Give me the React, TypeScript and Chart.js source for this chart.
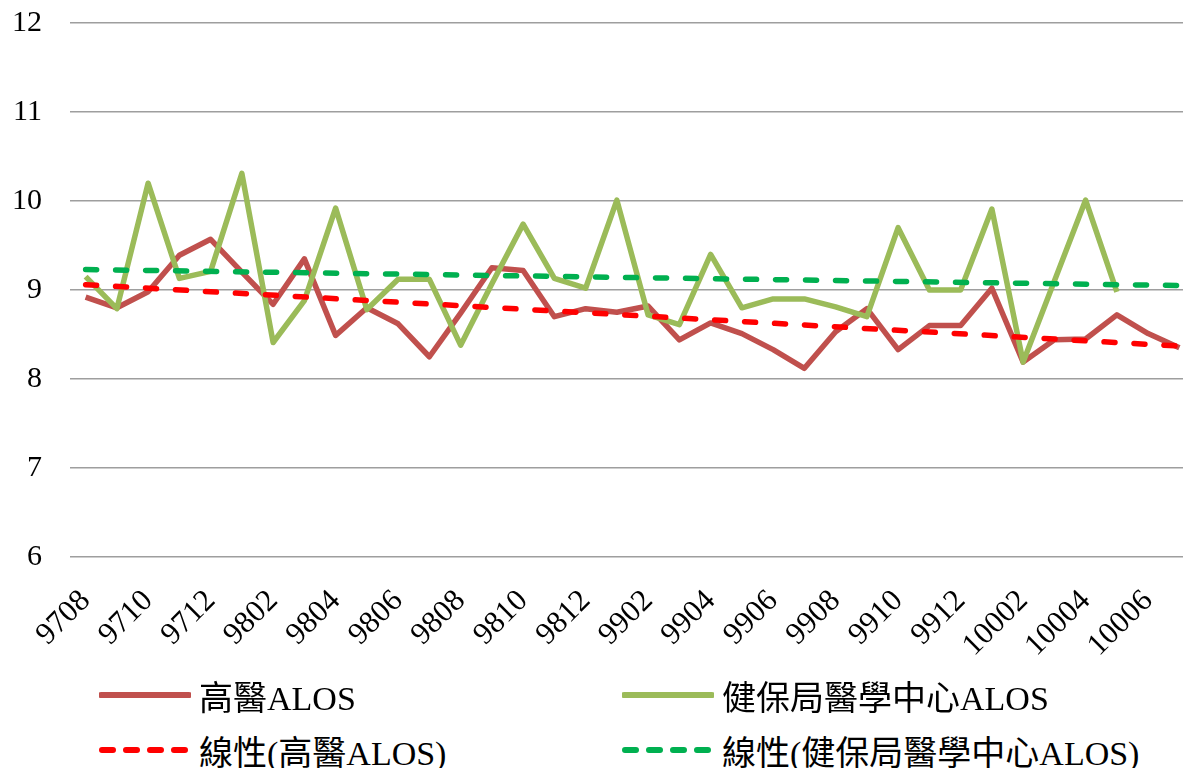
import React, { useEffect, useRef } from 'react';
import { Chart, registerables } from 'chart.js';

Chart.register(...registerables);

const months: string[] = [
  '9708', '9709', '9710', '9711', '9712',
  '9801', '9802', '9803', '9804', '9805', '9806', '9807', '9808', '9809', '9810', '9811', '9812',
  '9901', '9902', '9903', '9904', '9905', '9906', '9907', '9908', '9909', '9910', '9911', '9912',
  '10001', '10002', '10003', '10004', '10005', '10006', '10007',
];

const kmuAlos: number[] = [
  8.92, 8.80, 8.98, 9.39, 9.57,
  9.20, 8.84, 9.35, 8.49, 8.80, 8.62, 8.25, 8.74, 9.25, 9.22, 8.70, 8.79,
  8.75, 8.82, 8.44, 8.63, 8.51, 8.33, 8.12, 8.53, 8.79, 8.33, 8.60, 8.60,
  9.02, 8.19, 8.44, 8.45, 8.72, 8.51, 8.35,
];

const nhiAlos: number[] = [
  9.15, 8.79, 10.20, 9.13, 9.21,
  10.31, 8.41, 8.88, 9.92, 8.78, 9.12, 9.12, 8.38, 9.07, 9.74, 9.13, 9.02,
  10.01, 8.72, 8.61, 9.40, 8.80, 8.90, 8.90, 8.81, 8.70, 9.70, 9.00, 9.00,
  9.91, 8.19, 9.10, 10.01, 8.98,
];

const kmuTrend = [
  { x: '9708', y: 9.06 },
  { x: '10007', y: 8.37 },
];
const nhiTrend = [
  { x: '9708', y: 9.23 },
  { x: '10007', y: 9.05 },
];

const seriesNames = ['高醫ALOS', '健保局醫學中心ALOS', '線性(高醫ALOS)', '線性(健保局醫學中心ALOS)'];
const seriesColors = ['#C0504D', '#9BBB59', '#FF0000', '#00B050'];

const yMin = 6;
const yMax = 12;

const TICK_FONT = "'Liberation Serif', 'Times New Roman', serif";
const LEGEND_FONT = "'Liberation Serif', 'Times New Roman', 'Noto Sans CJK TC', serif";

function Swatch({ color, dashed }: { color: string; dashed: boolean }) {
  return (
    <svg width={92} height={12} style={{ display: 'block' }}>
      {dashed ? (
        <line x1={3} y1={6} x2={88} y2={6} stroke={color} strokeWidth={6}
          strokeDasharray="11 13" strokeLinecap="round" />
      ) : (
        <line x1={2} y1={6} x2={90} y2={6} stroke={color} strokeWidth={6} strokeLinecap="round" />
      )}
    </svg>
  );
}

export default function App() {
  const ref = useRef<HTMLCanvasElement | null>(null);

  useEffect(() => {
    if (!ref.current) return;
    const chart = new Chart(ref.current, {
      type: 'line',
      data: {
        labels: months,
        datasets: [
          {
            label: seriesNames[0], data: kmuAlos, borderColor: seriesColors[0], backgroundColor: seriesColors[0],
            borderWidth: 5.5, pointRadius: 0, tension: 0, order: 4, borderJoinStyle: 'round',
          },
          {
            label: seriesNames[1], data: nhiAlos, borderColor: seriesColors[1], backgroundColor: seriesColors[1],
            borderWidth: 5.5, pointRadius: 0, tension: 0, order: 3, borderJoinStyle: 'round',
          },
          {
            label: seriesNames[2], data: kmuTrend as any, borderColor: seriesColors[2], backgroundColor: seriesColors[2],
            borderWidth: 5.5, pointRadius: 0, borderDash: [11, 19], borderCapStyle: 'round', order: 2,
          },
          {
            label: seriesNames[3], data: nhiTrend as any, borderColor: seriesColors[3], backgroundColor: seriesColors[3],
            borderWidth: 5.5, pointRadius: 0, borderDash: [11, 19], borderCapStyle: 'round', order: 1,
          },
        ],
      },
      options: {
        responsive: false,
        animation: false,
        layout: { padding: { top: 23, left: 0, right: 0, bottom: 0 } },
        plugins: { legend: { display: false }, tooltip: { enabled: false } },
        scales: {
          x: {
            type: 'category',
            offset: true,
            grid: { display: false, drawTicks: false },
            border: { display: false },
            ticks: {
              autoSkip: false,
              minRotation: 45,
              maxRotation: 45,
              padding: 26,
              color: '#000',
              font: { family: TICK_FONT, size: 31 },
              callback: (_v: any, i: number) => (i % 2 === 0 ? months[i] : ''),
            },
            afterFit: (s: any) => {
              s.height = 680 - 557;
              s.paddingLeft = 0;
              s.paddingRight = 0;
            },
          },
          y: {
            min: yMin,
            max: yMax,
            grid: { color: '#9E9E9E', lineWidth: 1.5, drawTicks: false },
            border: { display: false },
            ticks: {
              stepSize: 1,
              padding: 28,
              color: '#000',
              font: { family: TICK_FONT, size: 30 },
            },
            afterFit: (s: any) => {
              s.width = 70;
              s.paddingTop = 0;
              s.paddingBottom = 0;
            },
          },
        },
      },
    });
    return () => chart.destroy();
  }, []);

  const legendItem = (i: number, dashed: boolean) => (
    <div style={{ display: 'flex', alignItems: 'center', position: 'absolute', left: i % 2 === 0 ? 99 : 622 }}>
      <Swatch color={seriesColors[i]} dashed={dashed} />
      <span style={{ marginLeft: 8, fontFamily: LEGEND_FONT, fontSize: 34, color: '#000', whiteSpace: 'nowrap' }}>
        {seriesNames[i]}
      </span>
    </div>
  );

  return (
    <div style={{ position: 'fixed', left: 0, top: 0, width: 1183, height: 768, overflow: 'hidden', background: '#fff' }}>
      <canvas ref={ref} width={1195} height={680} style={{ display: 'block', position: 'absolute', left: 0, top: 0 }} />
      <div style={{ position: 'absolute', left: 0, top: 675, width: 1183, height: 40 }}>
        <div style={{ position: 'relative', height: 40, display: 'flex', alignItems: 'center' }}>
          {legendItem(0, false)}
          {legendItem(1, false)}
        </div>
      </div>
      <div style={{ position: 'absolute', left: 0, top: 730, width: 1183, height: 40 }}>
        <div style={{ position: 'relative', height: 40, display: 'flex', alignItems: 'center' }}>
          {legendItem(2, true)}
          {legendItem(3, true)}
        </div>
      </div>
    </div>
  );
}
